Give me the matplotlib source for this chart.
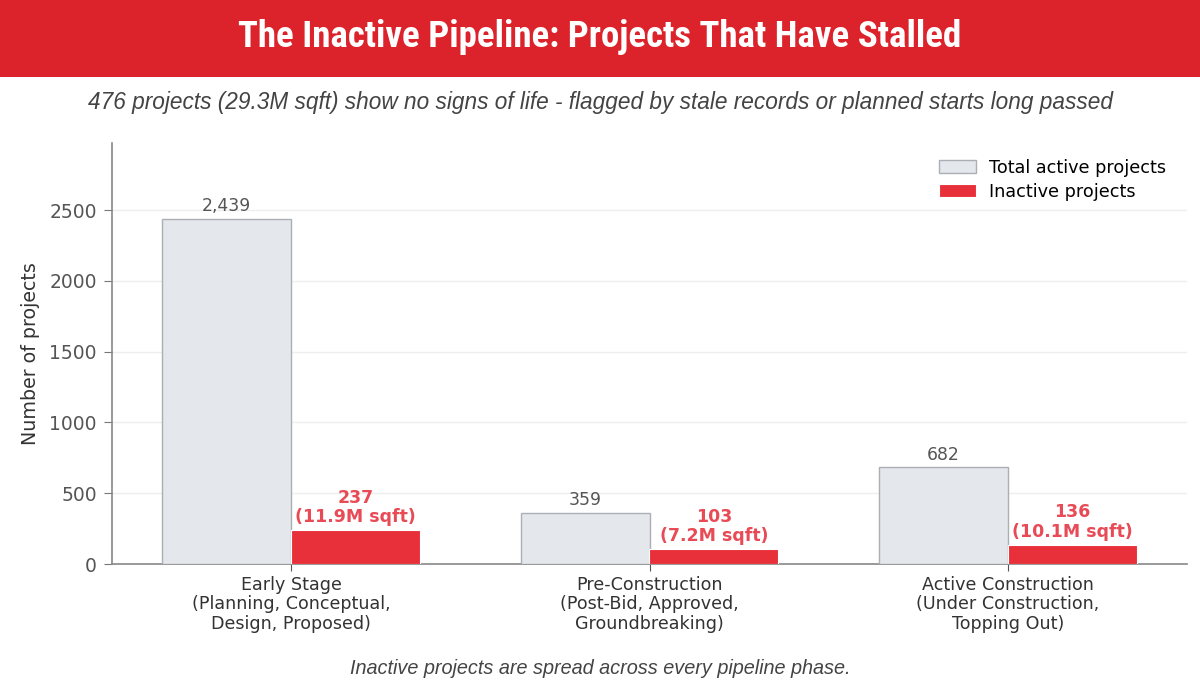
import matplotlib
matplotlib.use("Agg")
import matplotlib.pyplot as plt
from matplotlib.patches import Rectangle
import numpy as np

categories = ["Early Stage\n(Planning, Conceptual,\nDesign, Proposed)",
              "Pre-Construction\n(Post-Bid, Approved,\nGroundbreaking)",
              "Active Construction\n(Under Construction,\nTopping Out)"]
total_active = [2439, 359, 682]
inactive = [237, 103, 136]
inactive_sqft = ["11.9M", "7.2M", "10.1M"]
yticks = [0, 500, 1000, 1500, 2000, 2500]

title = "The Inactive Pipeline: Projects That Have Stalled"
subtitle = "476 projects (29.3M sqft) show no signs of life - flagged by stale records or planned starts long passed"
footer = "Inactive projects are spread across every pipeline phase."

GRAY_FILL = "#E4E7EB"
GRAY_EDGE = "#ABAEB3"
RED = "#E8303A"
RED_TEXT = "#E84A56"

fig = plt.figure(figsize=(12, 6.99), dpi=100)
fig.patch.set_facecolor("white")

# header band
fig.patches.append(Rectangle((0, 1 - 77/699), 1, 77/699, transform=fig.transFigure,
                             facecolor="#DC232B", edgecolor="none", zorder=0))
narrow = ["Liberation Sans Narrow", "Arial Narrow", "Roboto Condensed", "Archivo Narrow", "Liberation Sans"]
sans = ["Liberation Sans", "DejaVu Sans"]
fig.text(0.5, 1 - 37/699, title, ha="center", va="center", color="white",
         fontsize=26.6, fontweight="bold", family=narrow)
fig.text(0.5, 1 - 103/699, subtitle, ha="center", va="center", color="#444444",
         fontsize=16.3, style="italic", family=sans)
fig.text(0.5, 1 - 668/699, footer, ha="center", va="center", color="#444444",
         fontsize=14.3, style="italic", family=sans)

ax = fig.add_axes([112/1200, 1 - 564/699, (1187 - 112)/1200, (564 - 143)/699])
x = np.arange(len(categories))
w = 0.36
ax.bar(x - w/2, total_active, w, color=GRAY_FILL, edgecolor=GRAY_EDGE, linewidth=1,
       label="Total active projects", zorder=3)
ax.bar(x + w/2, inactive, w, color=RED, edgecolor="white", linewidth=0.8,
       label="Inactive projects", zorder=3)

for xi, v in zip(x, total_active):
    ax.text(xi - w/2, v + 28, f"{v:,}", ha="center", va="bottom", color="#555555", fontsize=12.4)
for xi, v, s in zip(x, inactive, inactive_sqft):
    ax.text(xi + w/2, v + 28, f"{v}\n({s} sqft)", ha="center", va="bottom", color=RED_TEXT,
            fontsize=12.5, fontweight="bold", linespacing=1.1)

ax.set_xlim(-0.5, 2.5)
ax.set_ylim(0, 2975)
ax.set_xticks(x)
ax.set_xticklabels(categories, fontsize=12.6, color="#333333", linespacing=1.1)
ax.set_yticks(yticks)
ax.tick_params(axis="y", labelsize=13.5, colors="#555555", length=6, color="#777777", pad=5)
ax.tick_params(axis="x", length=5, color="#555555", pad=3.5)
ax.set_ylabel("Number of projects", fontsize=13.7, color="#333333", labelpad=7)
ax.grid(axis="y", color="#EEEEEE", linewidth=1, zorder=0)
ax.set_axisbelow(True)
for sp in ["top", "right"]:
    ax.spines[sp].set_visible(False)
for sp in ["left", "bottom"]:
    ax.spines[sp].set_color("#888888")
    ax.spines[sp].set_linewidth(1.2)

ax.legend(loc="upper right", frameon=False, fontsize=12.7, handlelength=2.1,
          handleheight=0.75, labelspacing=0.35, handletextpad=0.7,
          bbox_to_anchor=(0.995, 1.0))

fig.savefig("out.png", dpi=100, facecolor="white")
